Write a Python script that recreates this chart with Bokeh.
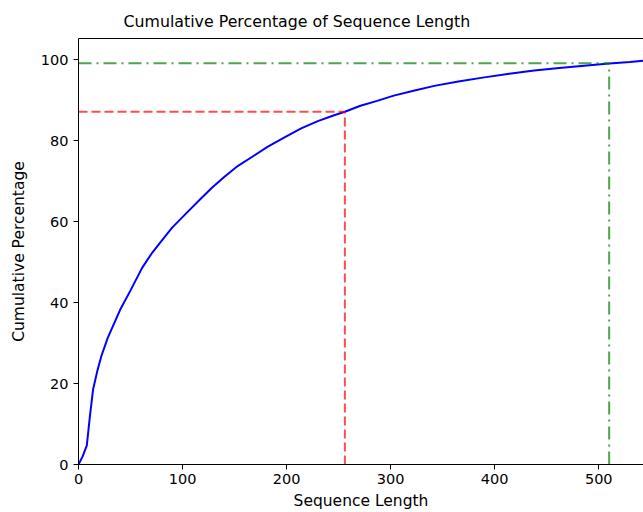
from bokeh.plotting import figure
from bokeh.models import Range1d, LinearAxis, FixedTicker
from bokeh.embed import file_html
from bokeh.resources import INLINE

# Cumulative curve (sequence length -> cumulative %)
seq_len = [0, 4, 8, 11, 14, 18, 22, 28, 35, 40, 50, 61, 70, 80, 90, 103, 117,
           128, 140, 153, 167, 182, 198, 214, 230, 245, 256, 271, 287, 303, 322,
           342, 365, 390, 414, 438, 462, 486, 510, 530, 548]
cum_pct = [0, 2, 4.7, 12, 18.5, 23, 26.8, 31.2, 35.3, 38.2, 43, 48.5, 52, 55.3,
           58.5, 61.9, 65.5, 68.3, 71, 73.7, 76, 78.5, 80.8, 83, 84.8, 86.2,
           87.1, 88.6, 89.8, 91.1, 92.3, 93.5, 94.6, 95.6, 96.5, 97.3, 97.9,
           98.5, 99.0, 99.4, 99.8]

# Reference markers
red_len, red_pct = 256, 87.1
green_len, green_pct = 510, 99.1

x_ticks = [0, 100, 200, 300, 400, 500]
y_ticks = [0, 20, 40, 60, 80, 100]

FONT = "DejaVu Sans"

p = figure(width=643, height=512, x_range=Range1d(0, 543), y_range=Range1d(0, 105.2),
           output_backend="svg", toolbar_location=None,
           min_border_left=78, min_border_right=0, min_border_top=38, min_border_bottom=48)
p.grid.visible = False
p.outline_line_color = None
p.background_fill_color = "white"
p.border_fill_color = "white"

p.title.text = "Cumulative Percentage of Sequence Length"
p.title.align = "left"
p.title.offset = 45
p.title.text_font = FONT
p.title.text_font_style = "normal"
p.title.text_font_size = "15.8px"
p.title.text_color = "black"
p.title.standoff = 16

for ax in (p.xaxis[0], p.yaxis[0]):
    ax.axis_line_color = "black"
    ax.axis_line_width = 1
    ax.major_tick_out = 5
    ax.major_tick_in = 0
    ax.minor_tick_out = 0
    ax.minor_tick_in = 0
    ax.major_label_text_font = FONT
    ax.major_label_text_font_size = "14.5px"
    ax.major_label_text_color = "black"
    ax.axis_label_text_font = FONT
    ax.axis_label_text_font_size = "15.5px"
    ax.axis_label_text_font_style = "normal"
    ax.axis_label_text_color = "black"
    ax.major_label_standoff = 5

p.xaxis[0].ticker = FixedTicker(ticks=x_ticks)
p.yaxis[0].ticker = FixedTicker(ticks=y_ticks)
p.xaxis[0].axis_label = "Sequence Length"
p.yaxis[0].axis_label = "Cumulative Percentage"
p.xaxis[0].major_label_standoff = 4
p.xaxis[0].axis_label_standoff = 5
p.yaxis[0].axis_label_standoff = 10

top = LinearAxis(ticker=FixedTicker(ticks=[]), major_label_text_font_size="0px",
                 major_tick_out=0, major_tick_in=0, minor_tick_out=0, minor_tick_in=0,
                 axis_line_color="black", axis_line_width=1)
p.add_layout(top, "above")

p.line(seq_len, cum_pct, line_color="blue", line_width=2)

p.segment(x0=[red_len, 0], y0=[0, red_pct], x1=[red_len, red_len], y1=[red_pct, red_pct],
          line_color="red", line_alpha=0.7, line_width=2, line_dash="9 4")
p.segment(x0=[green_len, 0], y0=[0, green_pct], x1=[green_len, green_len], y1=[green_pct, green_pct],
          line_color="green", line_alpha=0.7, line_width=2, line_dash="13 5 2 5")

open("out.html", "w").write(file_html(p, INLINE))
